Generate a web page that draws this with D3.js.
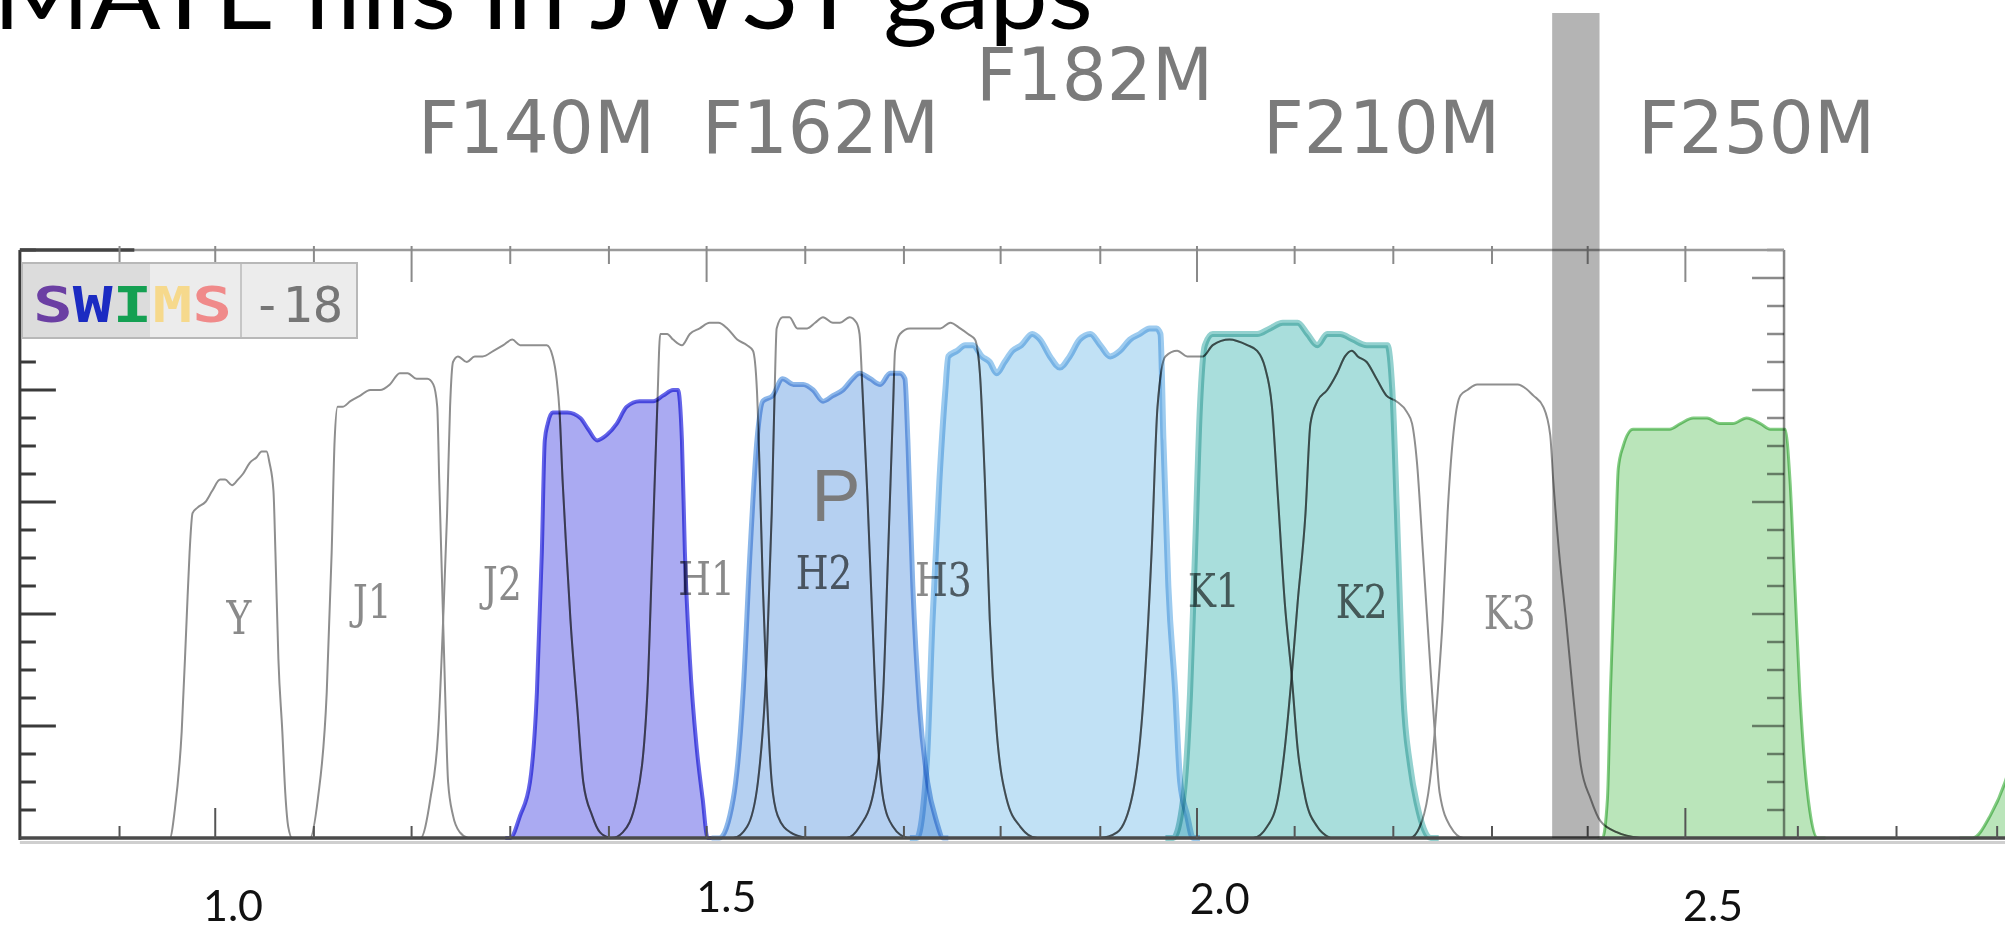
<!DOCTYPE html>
<html>
<head>
<meta charset="utf-8">
<script src="https://cdn.jsdelivr.net/npm/d3@7"></script>
<style>
  html, body { margin: 0; padding: 0; background: #fff; overflow: hidden; }
  svg { display: block; }
</style>
</head>
<body>
<svg id="chart" width="2005" height="930"></svg>
<script>
// ---------------------------------------------------------------
// Filter transmission curves: [wavelength (µm), throughput]
// ---------------------------------------------------------------

// SWIMS broad-band filters (drawn as outlines)
const swimsY = [[0.928,0],[0.936,0],[0.941,0.05],[0.948,0.19],[0.953,0.39],[0.956,0.51],[0.959,0.58],[0.964,0.59],[0.972,0.60],[0.979,0.62],[0.987,0.64],[0.992,0.64],[0.999,0.63],[1.005,0.64],[1.010,0.65],[1.017,0.67],[1.024,0.68],[1.029,0.69],[1.034,0.69],[1.037,0.67],[1.041,0.62],[1.043,0.51],[1.046,0.32],[1.050,0.19],[1.053,0.08],[1.056,0.02],[1.060,0],[1.068,0]];
const swimsJ1 = [[1.073,0],[1.078,0],[1.086,0.07],[1.095,0.26],[1.100,0.51],[1.103,0.71],[1.106,0.77],[1.111,0.77],[1.119,0.78],[1.129,0.79],[1.139,0.80],[1.149,0.80],[1.159,0.81],[1.169,0.83],[1.177,0.83],[1.186,0.82],[1.197,0.82],[1.203,0.81],[1.207,0.77],[1.209,0.64],[1.212,0.45],[1.215,0.26],[1.218,0.10],[1.223,0.04],[1.230,0.01],[1.238,0]];
const swimsJ2 = [[1.181,0],[1.190,0],[1.200,0.07],[1.208,0.19],[1.213,0.39],[1.217,0.58],[1.220,0.77],[1.223,0.85],[1.228,0.86],[1.237,0.85],[1.245,0.86],[1.253,0.86],[1.264,0.87],[1.274,0.88],[1.283,0.89],[1.291,0.88],[1.298,0.88],[1.308,0.88],[1.318,0.88],[1.324,0.86],[1.328,0.82],[1.331,0.76],[1.334,0.64],[1.338,0.51],[1.342,0.39],[1.349,0.23],[1.355,0.10],[1.364,0.04],[1.372,0.01],[1.382,0]];
const swimsH1 = [[1.372,0],[1.384,0],[1.395,0.01],[1.409,0.07],[1.420,0.26],[1.425,0.51],[1.430,0.77],[1.433,0.90],[1.440,0.90],[1.446,0.89],[1.455,0.88],[1.463,0.90],[1.473,0.91],[1.483,0.92],[1.492,0.92],[1.501,0.91],[1.511,0.89],[1.521,0.88],[1.527,0.87],[1.531,0.80],[1.534,0.64],[1.537,0.45],[1.541,0.26],[1.546,0.10],[1.552,0.04],[1.565,0.01],[1.582,0]];
const swimsH2 = [[1.499,0],[1.507,0],[1.521,0.02],[1.532,0.10],[1.541,0.32],[1.546,0.58],[1.549,0.80],[1.551,0.91],[1.557,0.93],[1.564,0.93],[1.572,0.91],[1.582,0.91],[1.590,0.92],[1.598,0.93],[1.608,0.92],[1.615,0.92],[1.625,0.93],[1.632,0.92],[1.635,0.90],[1.638,0.80],[1.643,0.61],[1.648,0.39],[1.653,0.19],[1.659,0.07],[1.669,0.02],[1.683,0]];
const swimsH3 = [[1.615,0],[1.622,0],[1.635,0.02],[1.649,0.08],[1.659,0.26],[1.664,0.51],[1.669,0.77],[1.671,0.87],[1.676,0.90],[1.686,0.91],[1.696,0.91],[1.706,0.91],[1.717,0.91],[1.727,0.92],[1.737,0.91],[1.745,0.90],[1.752,0.89],[1.757,0.83],[1.762,0.64],[1.767,0.39],[1.774,0.19],[1.784,0.07],[1.798,0.02],[1.815,0],[1.823,0]];
const swimsK1 = [[1.870,0],[1.879,0],[1.896,0.01],[1.912,0.08],[1.922,0.23],[1.931,0.51],[1.937,0.77],[1.945,0.86],[1.957,0.87],[1.967,0.86],[1.977,0.86],[1.983,0.86],[1.993,0.88],[2.010,0.89],[2.028,0.88],[2.038,0.87],[2.046,0.84],[2.053,0.77],[2.059,0.61],[2.066,0.42],[2.073,0.29],[2.079,0.16],[2.087,0.07],[2.099,0.02],[2.112,0]];
const swimsK2 = [[2.026,0],[2.034,0],[2.048,0.02],[2.059,0.07],[2.066,0.16],[2.073,0.29],[2.079,0.42],[2.087,0.58],[2.092,0.74],[2.099,0.78],[2.109,0.80],[2.119,0.83],[2.127,0.86],[2.134,0.87],[2.140,0.86],[2.149,0.85],[2.159,0.82],[2.169,0.79],[2.179,0.78],[2.190,0.76],[2.195,0.74],[2.200,0.67],[2.206,0.51],[2.213,0.32],[2.218,0.19],[2.223,0.08],[2.234,0.02],[2.247,0],[2.254,0]];
const swimsK3 = [[2.185,0],[2.193,0],[2.205,0.03],[2.213,0.10],[2.218,0.19],[2.221,0.26],[2.226,0.39],[2.231,0.58],[2.238,0.74],[2.244,0.79],[2.251,0.80],[2.261,0.81],[2.281,0.81],[2.302,0.81],[2.318,0.79],[2.328,0.77],[2.335,0.72],[2.338,0.64],[2.344,0.51],[2.351,0.39],[2.358,0.26],[2.366,0.13],[2.376,0.07],[2.386,0.03],[2.403,0.01],[2.426,0]];

const swimsNames  = ["Y", "J1", "J2", "H1", "H2", "H3", "K1", "K2", "K3"];
const swimsCurves = [swimsY, swimsJ1, swimsJ2, swimsH1, swimsH2, swimsH3, swimsK1, swimsK2, swimsK3];
// where each band name sits: [wavelength, throughput] of the label baseline centre
const swimsLabelAt = [[1.006,0.364],[1.141,0.393],[1.273,0.425],[1.480,0.434],[1.599,0.445],[1.720,0.432],[1.994,0.413],[2.144,0.393],[2.294,0.373]];

// Medium-band filters (drawn filled)
const mateViolet = [[1.276,0],[1.281,0],[1.291,0.04],[1.301,0.10],[1.308,0.26],[1.313,0.51],[1.316,0.71],[1.319,0.74],[1.324,0.76],[1.339,0.76],[1.352,0.75],[1.360,0.73],[1.369,0.71],[1.379,0.72],[1.389,0.74],[1.399,0.77],[1.412,0.78],[1.426,0.78],[1.436,0.79],[1.446,0.80],[1.451,0.80],[1.455,0.71],[1.458,0.51],[1.463,0.32],[1.470,0.16],[1.476,0.07],[1.481,0],[1.485,0]];
const mateBlue = [[1.485,0],[1.493,0],[1.507,0.07],[1.517,0.26],[1.524,0.51],[1.531,0.71],[1.537,0.78],[1.547,0.79],[1.557,0.82],[1.568,0.81],[1.578,0.81],[1.588,0.80],[1.598,0.78],[1.608,0.79],[1.618,0.80],[1.628,0.82],[1.635,0.83],[1.646,0.82],[1.656,0.81],[1.666,0.83],[1.676,0.83],[1.681,0.82],[1.684,0.71],[1.689,0.45],[1.696,0.23],[1.704,0.10],[1.713,0.03],[1.720,0],[1.725,0]];
const mateSky = [[1.686,0],[1.693,0],[1.703,0.13],[1.709,0.39],[1.716,0.64],[1.722,0.80],[1.725,0.86],[1.734,0.87],[1.742,0.88],[1.750,0.88],[1.759,0.86],[1.767,0.85],[1.774,0.83],[1.782,0.85],[1.790,0.87],[1.799,0.88],[1.810,0.90],[1.818,0.89],[1.828,0.86],[1.838,0.84],[1.848,0.86],[1.858,0.89],[1.869,0.90],[1.879,0.88],[1.889,0.86],[1.899,0.87],[1.909,0.89],[1.919,0.90],[1.929,0.91],[1.936,0.91],[1.940,0.90],[1.943,0.71],[1.948,0.45],[1.955,0.26],[1.960,0.10],[1.967,0.04],[1.973,0],[1.980,0]];
const mateTeal = [[1.945,0],[1.953,0],[1.963,0.07],[1.970,0.26],[1.975,0.51],[1.980,0.77],[1.985,0.88],[1.993,0.90],[2.007,0.90],[2.021,0.90],[2.038,0.90],[2.051,0.91],[2.064,0.92],[2.079,0.92],[2.089,0.90],[2.099,0.88],[2.109,0.90],[2.122,0.90],[2.135,0.89],[2.149,0.88],[2.162,0.88],[2.170,0.88],[2.175,0.80],[2.181,0.51],[2.186,0.26],[2.193,0.13],[2.200,0.06],[2.214,0],[2.222,0]];
const mateGreen = [[2.383,0],[2.388,0],[2.393,0.07],[2.396,0.26],[2.401,0.51],[2.404,0.66],[2.409,0.70],[2.419,0.73],[2.430,0.73],[2.444,0.73],[2.456,0.73],[2.467,0.74],[2.480,0.75],[2.494,0.75],[2.507,0.74],[2.520,0.74],[2.534,0.75],[2.548,0.74],[2.558,0.73],[2.568,0.73],[2.573,0.73],[2.578,0.64],[2.583,0.45],[2.588,0.26],[2.593,0.13],[2.598,0.05],[2.606,0],[2.614,0]];
const mateGreenNext = [[2.750,0],[2.763,0],[2.781,0.04],[2.796,0.10],[2.811,0.20]];

const mateCurves = [mateViolet, mateBlue, mateSky, mateTeal, mateGreen, mateGreenNext];

// Position of the "P" note
const pNoteAt = [1.611, 0.566];

// Wavelength gap marked by the grey bar (µm)
const gapBand = [2.337, 2.385];

// Axis ticks (µm) along the top/bottom frame, and throughput ticks
const frameTicks   = [0.885,0.982,1.082,1.181,1.281,1.381,1.480,1.580,1.680,1.778,1.879,1.977,2.076,2.176,2.276,2.373,2.472];
const frameLong    = [1.181, 1.480, 1.977, 2.472];
const bottomExtra  = [2.586, 2.686, 2.788];
const bottomTall   = [0.982, 1.977, 2.472];
const tputTicks    = d3.range(1, 22).map(i => +(i * 0.05).toFixed(2));

// Wavelength tick labels
const waveTicks  = [1.0, 1.5, 2.0, 2.5];
const waveLabels = ["1.0", "1.5", "2.0", "2.5"];

// JWST medium-band names listed above the panel
const jwstNames = ["F140M", "F162M", "F182M", "F210M", "F250M"];

const titleText = "MATE fills in JWST gaps";

// ---------------------------------------------------------------
// Layout
// ---------------------------------------------------------------
const W = 2005, H = 930;
const lamMin = 0.784, lamMax = 2.572, tMax = 1.05;

const x = d3.scaleLinear().domain([1.0, 2.5]).range([233, 1713]);
const y = d3.scaleLinear().domain([0, tMax]).range([838, 250]);

const svg = d3.select("#chart");
svg.append("rect").attr("width", W).attr("height", H).attr("fill", "#fff");

const line = d3.line().x(d => x(d[0])).y(d => y(d[1])).curve(d3.curveMonotoneX);
const area = d3.area().x(d => x(d[0])).y0(y(0)).y1(d => y(d[1])).curve(d3.curveMonotoneX);

const mateStyle = [
  { fill: "#aaaaf2", edge: "#6565e8", w: 4 },
  { fill: "#b5d0f1", edge: "#8bb6e9", w: 5 },
  { fill: "#c1e1f5", edge: "#9dcbef", w: 6 },
  { fill: "#a9dedc", edge: "#93d1cf", w: 6 },
  { fill: "#bae5ba", edge: "#84cd84", w: 3 },
  { fill: "#bae5ba", edge: "#84cd84", w: 3 }
];

// clip region = union of filled bands
const defs = svg.append("defs");
const clip = defs.append("clipPath").attr("id", "fillClip");
mateCurves.forEach(c => clip.append("path").attr("d", area(c)));

// ---- outline filters and their names
const outlines = svg.append("g");
swimsCurves.forEach(c => {
  outlines.append("path").attr("d", line(c))
    .attr("fill", "none").attr("stroke", "#8e8e8e").attr("stroke-width", 2);
});

function bandLabel(g, name, at, color) {
  return g.append("text")
    .attr("transform", `translate(${x(at[0])},${y(at[1])}) scale(0.8,1)`)
    .attr("text-anchor", "middle")
    .attr("font-family", "DejaVu Serif")
    .attr("font-size", 47)
    .attr("fill", color)
    .text(name);
}
const labelG = svg.append("g");
swimsNames.forEach((n, i) => bandLabel(labelG, n, swimsLabelAt[i], "#8a8a8a"));

// ---- filled bands, multiplied onto whatever lies beneath
const fills = svg.append("g");
mateCurves.forEach((c, i) => {
  fills.append("path").attr("d", area(c))
    .attr("fill", mateStyle[i].fill)
    .style("mix-blend-mode", "multiply");
  fills.append("path").attr("d", line(c))
    .attr("fill", "none")
    .attr("stroke", mateStyle[i].edge)
    .attr("stroke-width", mateStyle[i].w)
    .attr("stroke-linejoin", "round")
    .style("mix-blend-mode", "multiply");
});

// ---- outlines and names seen through the filled bands look darker
const inner = svg.append("g");
swimsCurves.forEach(c => {
  inner.append("path").attr("d", line(c))
    .attr("clip-path", "url(#fillClip)")
    .attr("fill", "none").attr("stroke", "#9a9a9a").attr("stroke-width", 2)
    .style("mix-blend-mode", "multiply");
});
swimsNames.forEach((n, i) => {
  const gl = inner.append("g").attr("clip-path", "url(#fillClip)")
    .style("mix-blend-mode", "multiply");
  bandLabel(gl, n, swimsLabelAt[i], "#bdbdbd");
});

// ---- "P" note
svg.append("text")
  .attr("x", x(pNoteAt[0])).attr("y", y(pNoteAt[1]))
  .attr("text-anchor", "middle")
  .attr("font-family", "Liberation Sans")
  .attr("font-size", 74)
  .attr("fill", "#7b7b7b")
  .text("P");

// ---- frame and ticks
const axes = svg.append("g");
const xl = x(lamMin), xr = x(lamMax), yt = y(tMax), yb = y(0);

// right axis
axes.append("line").attr("x1", xr).attr("x2", xr).attr("y1", yt).attr("y2", yb)
  .attr("stroke", "#8a8a8a").attr("stroke-width", 2.5).style("mix-blend-mode", "multiply");
tputTicks.forEach(t => {
  const major = Math.abs(t / 0.2 - Math.round(t / 0.2)) < 1e-6;
  axes.append("line").attr("x1", xr).attr("x2", xr - (major ? 32 : 17))
    .attr("y1", y(t)).attr("y2", y(t))
    .attr("stroke", "#8a8a8a").attr("stroke-width", 2.5).style("mix-blend-mode", "multiply");
});

// left axis
axes.append("line").attr("x1", xl).attr("x2", xl).attr("y1", yt).attr("y2", yb + 2)
  .attr("stroke", "#3a3a3a").attr("stroke-width", 3);
tputTicks.forEach(t => {
  const major = Math.abs(t / 0.2 - Math.round(t / 0.2)) < 1e-6;
  axes.append("line").attr("x1", xl).attr("x2", xl + (major ? 36 : 16))
    .attr("y1", y(t)).attr("y2", y(t))
    .attr("stroke", "#3a3a3a").attr("stroke-width", 3);
});

// top axis
axes.append("line").attr("x1", xl).attr("x2", xr).attr("y1", yt).attr("y2", yt)
  .attr("stroke", "#9a9a9a").attr("stroke-width", 2.5);
axes.append("line").attr("x1", xl).attr("x2", x(0.9)).attr("y1", yt).attr("y2", yt)
  .attr("stroke", "#444").attr("stroke-width", 3.5);
frameTicks.forEach(t => {
  const long = frameLong.includes(t);
  axes.append("line").attr("x1", x(t)).attr("x2", x(t))
    .attr("y1", yt - 4).attr("y2", yt + (long ? 32 : 14))
    .attr("stroke", "#8a8a8a").attr("stroke-width", 2);
});

// bottom axis (runs on across the page)
axes.append("line").attr("x1", xl).attr("x2", W).attr("y1", yb + 4.5).attr("y2", yb + 4.5)
  .attr("stroke", "#cfcfcf").attr("stroke-width", 3);
axes.append("line").attr("x1", xl).attr("x2", W).attr("y1", yb).attr("y2", yb)
  .attr("stroke", "#4a4a4a").attr("stroke-width", 3.5);
frameTicks.concat(bottomExtra).forEach(t => {
  const tall = bottomTall.includes(t);
  axes.append("line").attr("x1", x(t)).attr("x2", x(t))
    .attr("y1", yb).attr("y2", yb - (tall ? 30 : 12))
    .attr("stroke", "#555").attr("stroke-width", 2);
});

// ---- grey bar marking the wavelength gap
svg.append("rect")
  .attr("x", x(gapBand[0])).attr("width", x(gapBand[1]) - x(gapBand[0]))
  .attr("y", 13).attr("height", yb - 13)
  .attr("fill", "#b4b4b4")
  .style("mix-blend-mode", "multiply");

// ---- instrument badge
const badge = svg.append("g");
badge.append("rect").attr("x", 22).attr("y", 263).attr("width", 335).attr("height", 75)
  .attr("fill", "#ececec").attr("stroke", "#b8b8b8").attr("stroke-width", 2);
badge.append("rect").attr("x", 23).attr("y", 264).attr("width", 127).attr("height", 73)
  .attr("fill", "#dcdcdc");
badge.append("line").attr("x1", 241).attr("x2", 241).attr("y1", 264).attr("y2", 337)
  .attr("stroke", "#c6c6c6").attr("stroke-width", 2);
const badgeLetters = ["S", "W", "I", "M", "S"];
const badgeColors  = ["#6b3fa3", "#1b2bc2", "#14a052", "#f6d98c", "#f08a8a"];
const bt = badge.append("text").attr("x", 33).attr("y", 322)
  .attr("font-family", "DejaVu Sans Mono").attr("font-weight", "bold").attr("font-size", 50)
  .attr("textLength", 199).attr("lengthAdjust", "spacingAndGlyphs");
badgeLetters.forEach((l, i) => bt.append("tspan").attr("fill", badgeColors[i]).text(l));
badge.append("text").attr("x", 252).attr("y", 322)
  .attr("font-family", "DejaVu Sans Mono").attr("font-size", 50)
  .attr("textLength", 91).attr("lengthAdjust", "spacingAndGlyphs")
  .attr("fill", "#767676").text("-18");

// ---- wavelength labels under the panel
const labelBaseline = { "1.0": 921, "1.5": 912, "2.0": 914, "2.5": 921 };
waveTicks.forEach((v, i) => {
  svg.append("text")
    .attr("x", x(v)).attr("y", labelBaseline[waveLabels[i]])
    .attr("text-anchor", "middle")
    .attr("font-family", "Lato").attr("font-size", 43)
    .attr("fill", "#111").text(waveLabels[i]);
});

// ---- JWST filter names
const jwstPos = [[418, 153], [702, 153], [976, 100], [1263, 153], [1638, 153]];
jwstNames.forEach((n, i) => {
  svg.append("text")
    .attr("x", jwstPos[i][0]).attr("y", jwstPos[i][1])
    .attr("font-family", "DejaVu Sans").attr("font-size", 73)
    .attr("textLength", 237).attr("lengthAdjust", "spacingAndGlyphs")
    .attr("fill", "#7b7b7b").text(n);
});

// ---- slide title (runs off the top edge)
svg.append("text")
  .attr("x", -7).attr("y", 29)
  .attr("font-family", "Lato").attr("font-size", 96)
  .attr("textLength", 1100).attr("lengthAdjust", "spacingAndGlyphs")
  .attr("fill", "#000").text(titleText);
</script>
</body>
</html>
